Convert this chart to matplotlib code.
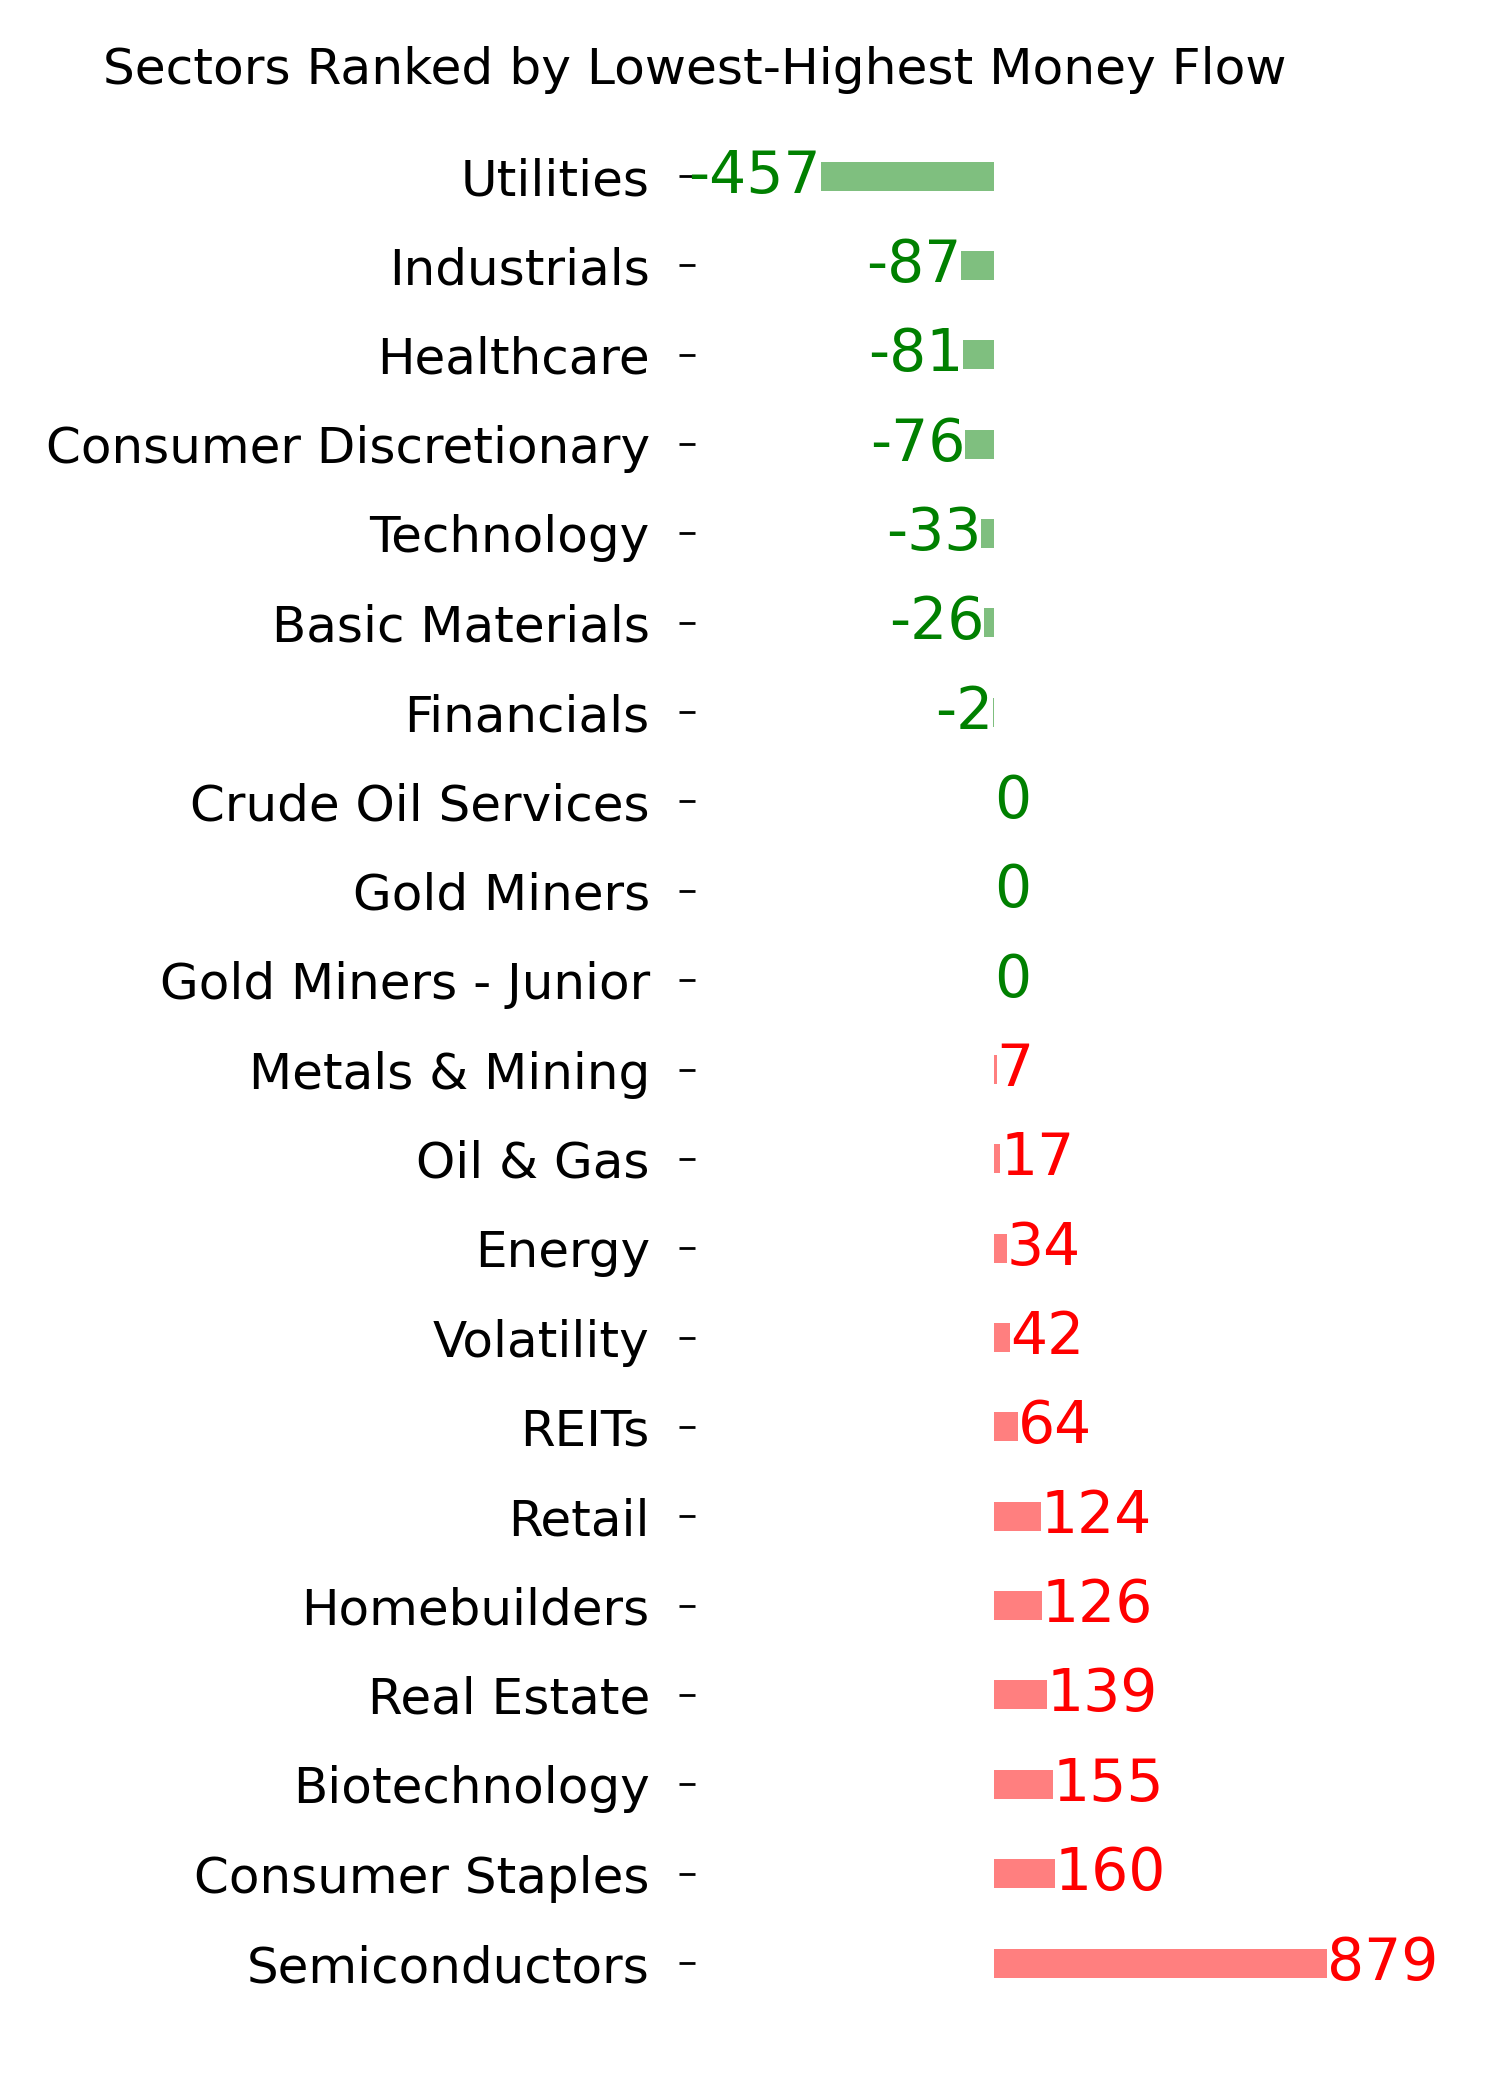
import matplotlib
matplotlib.use("Agg")
import matplotlib.pyplot as plt

# Sector money flow, ranked lowest -> highest
sectors = [
    'Utilities', 'Industrials', 'Healthcare', 'Consumer Discretionary',
    'Technology', 'Basic Materials', 'Financials', 'Crude Oil Services',
    'Gold Miners', 'Gold Miners - Junior', 'Metals & Mining', 'Oil & Gas',
    'Energy', 'Volatility', 'REITs', 'Retail', 'Homebuilders',
    'Real Estate', 'Biotechnology', 'Consumer Staples', 'Semiconductors'
]
money_flow = [-457, -87, -81, -76, -33, -26, -2, 0, 0, 0, 7, 17, 34, 42,
              64, 124, 126, 139, 155, 160, 879]

fig = plt.figure(figsize=(15, 21), dpi=100)
ax = fig.add_axes([0.4633, 0.0397, 0.4895, 0.902])

ypos = list(range(len(sectors)))
bar_colors = ['green' if v <= 0 else 'red' for v in money_flow]
ax.barh(ypos, money_flow, height=0.325, color=bar_colors, alpha=0.5)

# value labels at the end of each bar
for y, v, c in zip(ypos, money_flow, bar_colors):
    ha = 'right' if v < 0 else 'left'
    ax.text(v, y, str(v), color=c, ha=ha, va='center', fontsize=42)

ax.set_yticks(ypos)
ax.set_yticklabels(sectors, fontsize=36)
ax.tick_params(axis='y', length=11.5, width=2, pad=21)
ax.set_xticks([])
ax.set_xlim(-790, 1150)
ax.set_ylim(20.6, -0.6)
for s in ax.spines.values():
    s.set_visible(False)

fig.suptitle('Sectors Ranked by Lowest-Highest Money Flow', fontsize=36.2,
             x=0.463, y=0.978)

plt.savefig('out.png', dpi=100)
